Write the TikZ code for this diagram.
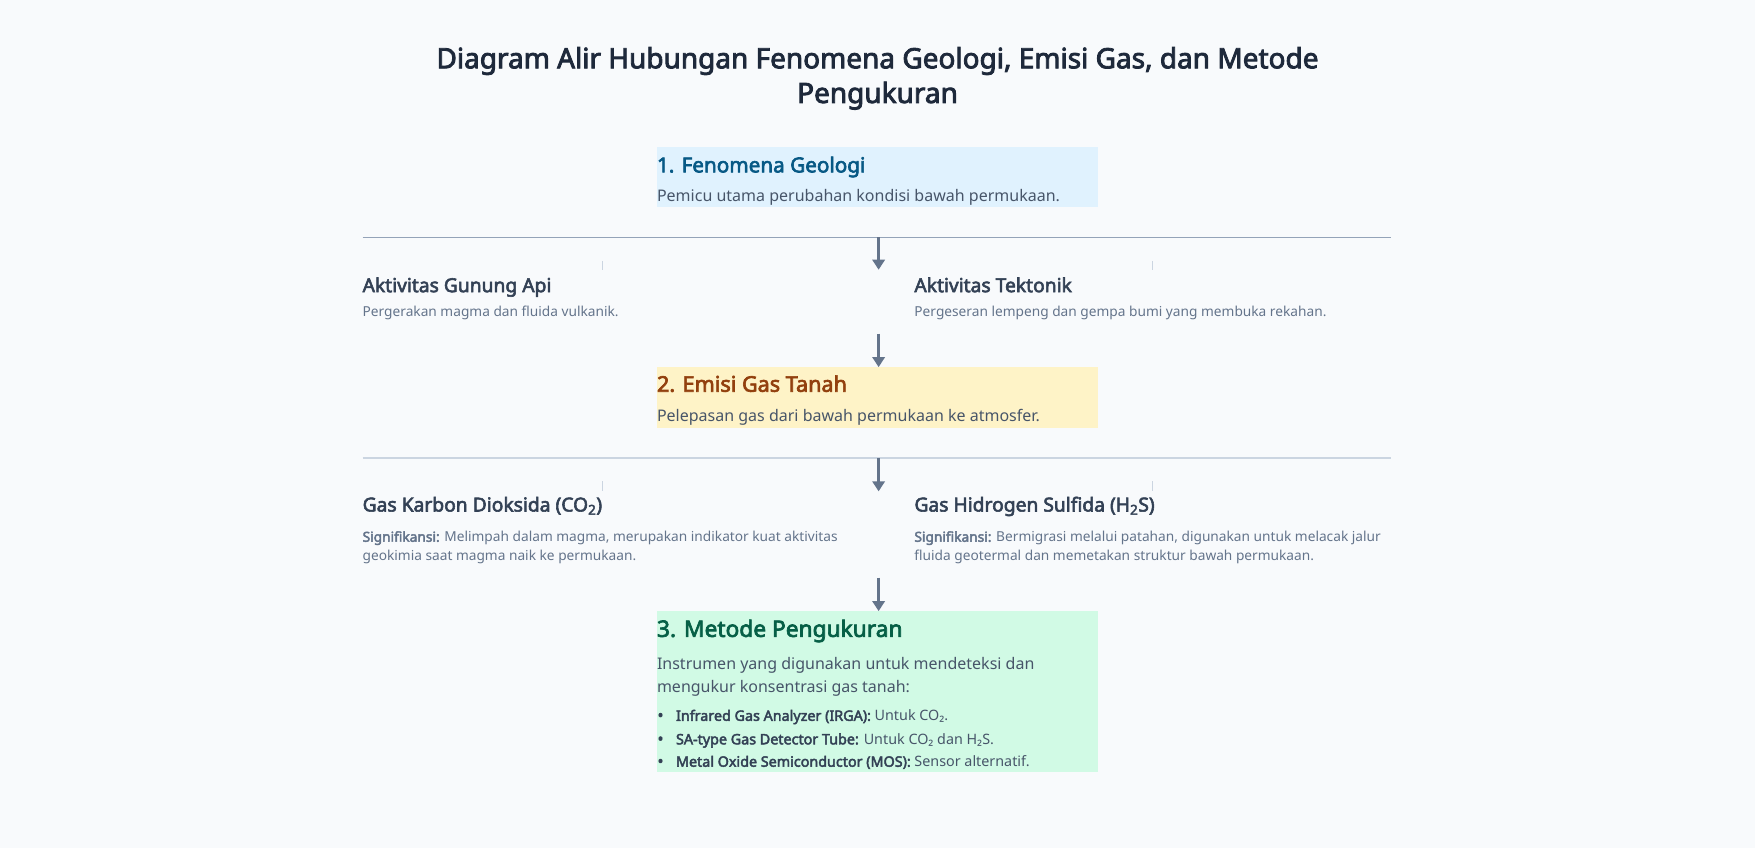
\documentclass[tikz,border=0pt]{standalone}
\usepackage{fontspec}
\setmainfont{Noto Sans}[BoldFont={Noto Sans}, BoldFeatures={FakeBold=3}]
\usetikzlibrary{arrows.meta}
\definecolor{bgc}{HTML}{F8FAFC}
\definecolor{titlec}{HTML}{1E293B}
\definecolor{subc}{HTML}{475569}
\definecolor{headc}{HTML}{334155}
\definecolor{descc}{HTML}{64748B}
\definecolor{linec}{HTML}{94A3B8}
\definecolor{lineb}{HTML}{CBD5E1}
\definecolor{tickc}{HTML}{CBD5E1}
\definecolor{arrc}{HTML}{64748B}
\definecolor{boxa}{HTML}{E0F2FE}
\definecolor{boxat}{HTML}{075985}
\definecolor{boxb}{HTML}{FEF3C7}
\definecolor{boxbt}{HTML}{92400E}
\definecolor{boxc}{HTML}{D1FAE5}
\definecolor{boxct}{HTML}{065F46}
\tikzset{
  txt/.style={anchor=base west, inner sep=0pt, outer sep=0pt},
  maintitle/.style={anchor=base, inner sep=0pt, text=titlec, font=\fontsize{25}{30}\selectfont\bfseries},
  boxtitle/.style={txt, font=\fontsize{18.5}{22}\selectfont\bfseries},
  boxsub/.style={txt, text=subc, font=\fontsize{14.3}{18}\selectfont},
  sidehead/.style={txt, text=headc, font=\fontsize{17.2}{20}\selectfont\bfseries},
  sidedesc/.style={txt, text=descc, font=\fontsize{12.25}{15}\selectfont},
  bullettxt/.style={txt, text=subc, font=\fontsize{12.8}{15}\selectfont},
  bulletdot/.style={txt, text=headc, font=\fontsize{14}{15}\selectfont\bfseries},
  panel/.style={anchor=north west, inner sep=0pt, outer sep=0pt, minimum width=394pt},
  sepline/.style={draw=linec, line width=1.3pt},
  seplineb/.style={draw=lineb, line width=2.2pt},
  tick/.style={draw=tickc, line width=1pt},
  flow/.style={draw=arrc, line width=2.2pt, -{Triangle[length=9pt, width=11pt]}},
}
\begin{document}
\begin{tikzpicture}[x=1pt, y=-1pt]
\useasboundingbox (0,0) rectangle (1568,757.6);
\fill[bgc] (0,0) rectangle (1568,757.6);

% title
\node[maintitle] (t1) at (784,61) {Diagram Alir Hubungan Fenomena Geologi, Emisi Gas, dan Metode};
\node[maintitle] (t2) at (784,92) {Pengukuran};

% box 1
\node[panel, fill=boxa, minimum height=54pt] (b1) at (587,131) {};
\node[boxtitle, text=boxat] (b1t) at (587,154) {1. Fenomena Geologi};
\node[boxsub] (b1s) at (587,180) {Pemicu utama perubahan kondisi bawah permukaan.};

% separator 1
\coordinate (l1a) at (324,212);
\coordinate (l1b) at (1243,212);
\draw[sepline] (l1a) -- (l1b);
\coordinate (a1s) at (785,212);
\coordinate (a1e) at (785,241);
\draw[flow] (a1s) -- (a1e);
\coordinate (k1a) at (538,233); \coordinate (k1b) at (538,241);
\coordinate (k2a) at (1030,233); \coordinate (k2b) at (1030,241);
\draw[tick] (k1a) -- (k1b);
\draw[tick] (k2a) -- (k2b);

% branch 1
\node[sidehead] (g1) at (324,261) {Aktivitas Gunung Api};
\node[sidedesc] (g1d) at (324,283) {Pergerakan magma dan fluida vulkanik.};
\node[sidehead] (g2) at (817,261) {Aktivitas Tektonik};
\node[sidedesc] (g2d) at (817,283) {Pergeseran lempeng dan gempa bumi yang membuka rekahan.};

\coordinate (a2s) at (785,298);
\coordinate (a2e) at (785,328);
\draw[flow] (a2s) -- (a2e);

% box 2
\node[panel, fill=boxb, minimum height=54pt] (b2) at (587,328) {};
\node[boxtitle, text=boxbt, font=\fontsize{19.3}{22}\selectfont\bfseries] (b2t) at (587,350) {2. Emisi Gas Tanah};
\node[boxsub] (b2s) at (587,377) {Pelepasan gas dari bawah permukaan ke atmosfer.};

% separator 2
\coordinate (l2a) at (324,409);
\coordinate (l2b) at (1243,409);
\draw[seplineb] (l2a) -- (l2b);
\coordinate (a3s) at (785,409);
\coordinate (a3e) at (785,439);
\draw[flow] (a3s) -- (a3e);
\coordinate (k3a) at (538,430); \coordinate (k3b) at (538,439);
\coordinate (k4a) at (1030,430); \coordinate (k4b) at (1030,439);
\draw[tick] (k3a) -- (k3b);
\draw[tick] (k4a) -- (k4b);

% branch 2
\node[sidehead] (h1) at (324,457) {Gas Karbon Dioksida (CO\textsubscript{2})};
\node[sidedesc] (h1d) at (324,484) {\textbf{Signifikansi:} Melimpah dalam magma, merupakan indikator kuat aktivitas};
\node[sidedesc] (h1e) at (324,501) {geokimia saat magma naik ke permukaan.};
\node[sidehead] (h2) at (817,457) {Gas Hidrogen Sulfida (H\textsubscript{2}S)};
\node[sidedesc] (h2d) at (817,484) {\textbf{Signifikansi:} Bermigrasi melalui patahan, digunakan untuk melacak jalur};
\node[sidedesc] (h2e) at (817,501) {fluida geotermal dan memetakan struktur bawah permukaan.};

\coordinate (a4s) at (785,516);
\coordinate (a4e) at (785,546);
\draw[flow] (a4s) -- (a4e);

% box 3
\node[panel, fill=boxc, minimum height=144pt] (b3) at (587,546) {};
\node[boxtitle, text=boxct, font=\fontsize{20.3}{24}\selectfont\bfseries] (b3t) at (587,569) {3. Metode Pengukuran};
\node[boxsub] (b3s) at (587,598) {Instrumen yang digunakan untuk mendeteksi dan};
\node[boxsub] (b3u) at (587,619) {mengukur konsentrasi gas tanah:};
\node[bulletdot] (d1) at (587.5,644) {•};
\node[bullettxt] (c1) at (604,644) {\textcolor{headc}{\textbf{Infrared Gas Analyzer (IRGA):}} Untuk CO₂.};
\node[bulletdot] (d2) at (587.5,665) {•};
\node[bullettxt] (c2) at (604,665) {\textcolor{headc}{\textbf{SA-type Gas Detector Tube:}} Untuk CO₂ dan H₂S.};
\node[bulletdot] (d3) at (587.5,685) {•};
\node[bullettxt] (c3) at (604,685) {\textcolor{headc}{\textbf{Metal Oxide Semiconductor (MOS):}} Sensor alternatif.};
\end{tikzpicture}
\end{document}
